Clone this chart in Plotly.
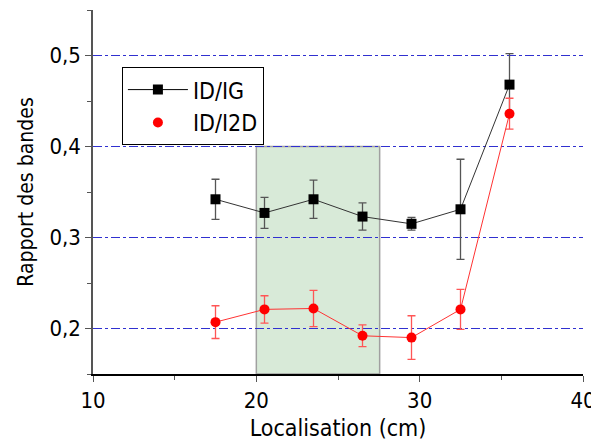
import plotly.graph_objects as go

# Data
localisation = [17.5, 20.5, 23.5, 26.5, 29.5, 32.5, 35.5]
id_ig = [0.342, 0.327, 0.342, 0.323, 0.315, 0.331, 0.468]
id_ig_err = [0.022, 0.017, 0.021, 0.015, 0.007, 0.055, 0.034]
id_i2d = [0.207, 0.221, 0.222, 0.192, 0.190, 0.221, 0.436]
id_i2d_err = [0.018, 0.015, 0.020, 0.012, 0.024, 0.022, 0.017]

region_x = [20, 27.55]
region_y = [0.15, 0.40]

x_ticks = [10, 20, 30, 40]
y_ticks = [0.2, 0.3, 0.4, 0.5]
y_tick_labels = ["0,2", "0,3", "0,4", "0,5"]

FONT = "DejaVu Sans Condensed, DejaVu Sans, sans-serif"

fig = go.Figure()

fig.add_shape(type="rect", xref="x", yref="y",
              x0=region_x[0], x1=region_x[1], y0=region_y[0], y1=region_y[1],
              fillcolor="#d8ead8", line=dict(color="#a0a0a0", width=1.5),
              layer="below")

fig.add_trace(go.Scatter(
    x=localisation, y=id_ig, mode="lines+markers", showlegend=False,
    line=dict(color="#333333", width=1),
    marker=dict(symbol="square", size=10, color="black"),
    error_y=dict(type="data", array=id_ig_err, color="#555555", thickness=1.3, width=4),
))
fig.add_trace(go.Scatter(
    x=localisation, y=id_i2d, mode="lines+markers", showlegend=False,
    line=dict(color="#ff3333", width=1),
    marker=dict(symbol="circle", size=10, color="red"),
    error_y=dict(type="data", array=id_i2d_err, color="#ff5555", thickness=1.3, width=4),
))

# legend entries
fig.add_trace(go.Scatter(
    x=[None], y=[None], mode="lines+markers", name="ID/IG",
    line=dict(color="black", width=1),
    marker=dict(symbol="square", size=10, color="black"),
))
fig.add_trace(go.Scatter(
    x=[None], y=[None], mode="markers", name="ID/I2D",
    marker=dict(symbol="circle", size=10, color="red"),
))

fig.update_layout(
    width=591, height=435,
    margin=dict(l=85, r=16, t=2, b=69, autoexpand=False),
    plot_bgcolor="white", paper_bgcolor="white",
    font=dict(family=FONT, size=20, color="black"),
    legend=dict(x=0.059, y=0.843, xanchor="left", yanchor="top",
                bordercolor="black", borderwidth=1, bgcolor="white",
                font=dict(size=23), itemwidth=60, tracegroupgap=0),
    showlegend=True,
)

fig.update_xaxes(
    range=[10, 40], tickvals=x_ticks, showgrid=False, zeroline=False,
    showline=True, linecolor="black", linewidth=1.5,
    ticks="outside", ticklen=6, tickcolor="#555555",
    minor=dict(dtick=5, ticks="outside", ticklen=4, tickcolor="#555555", showgrid=False),
    title=dict(text="Localisation (cm)", font=dict(size=23), standoff=8),
    tickfont=dict(size=22), automargin=False,
)
fig.update_yaxes(
    range=[0.15, 0.55], tickvals=y_ticks, ticktext=y_tick_labels,
    showgrid=True, gridcolor="#3030d0", griddash="dashdot", gridwidth=1,
    zeroline=False, showline=True, linecolor="#555555", linewidth=1.5,
    ticks="outside", ticklen=6, tickcolor="#555555",
    minor=dict(dtick=0.05, tick0=0.15, ticks="outside", ticklen=4, tickcolor="#555555", showgrid=False),
    title=dict(text="Rapport des bandes", font=dict(size=21), standoff=10),
    tickfont=dict(size=22), automargin=False,
)

fig.write_html("out.html")
